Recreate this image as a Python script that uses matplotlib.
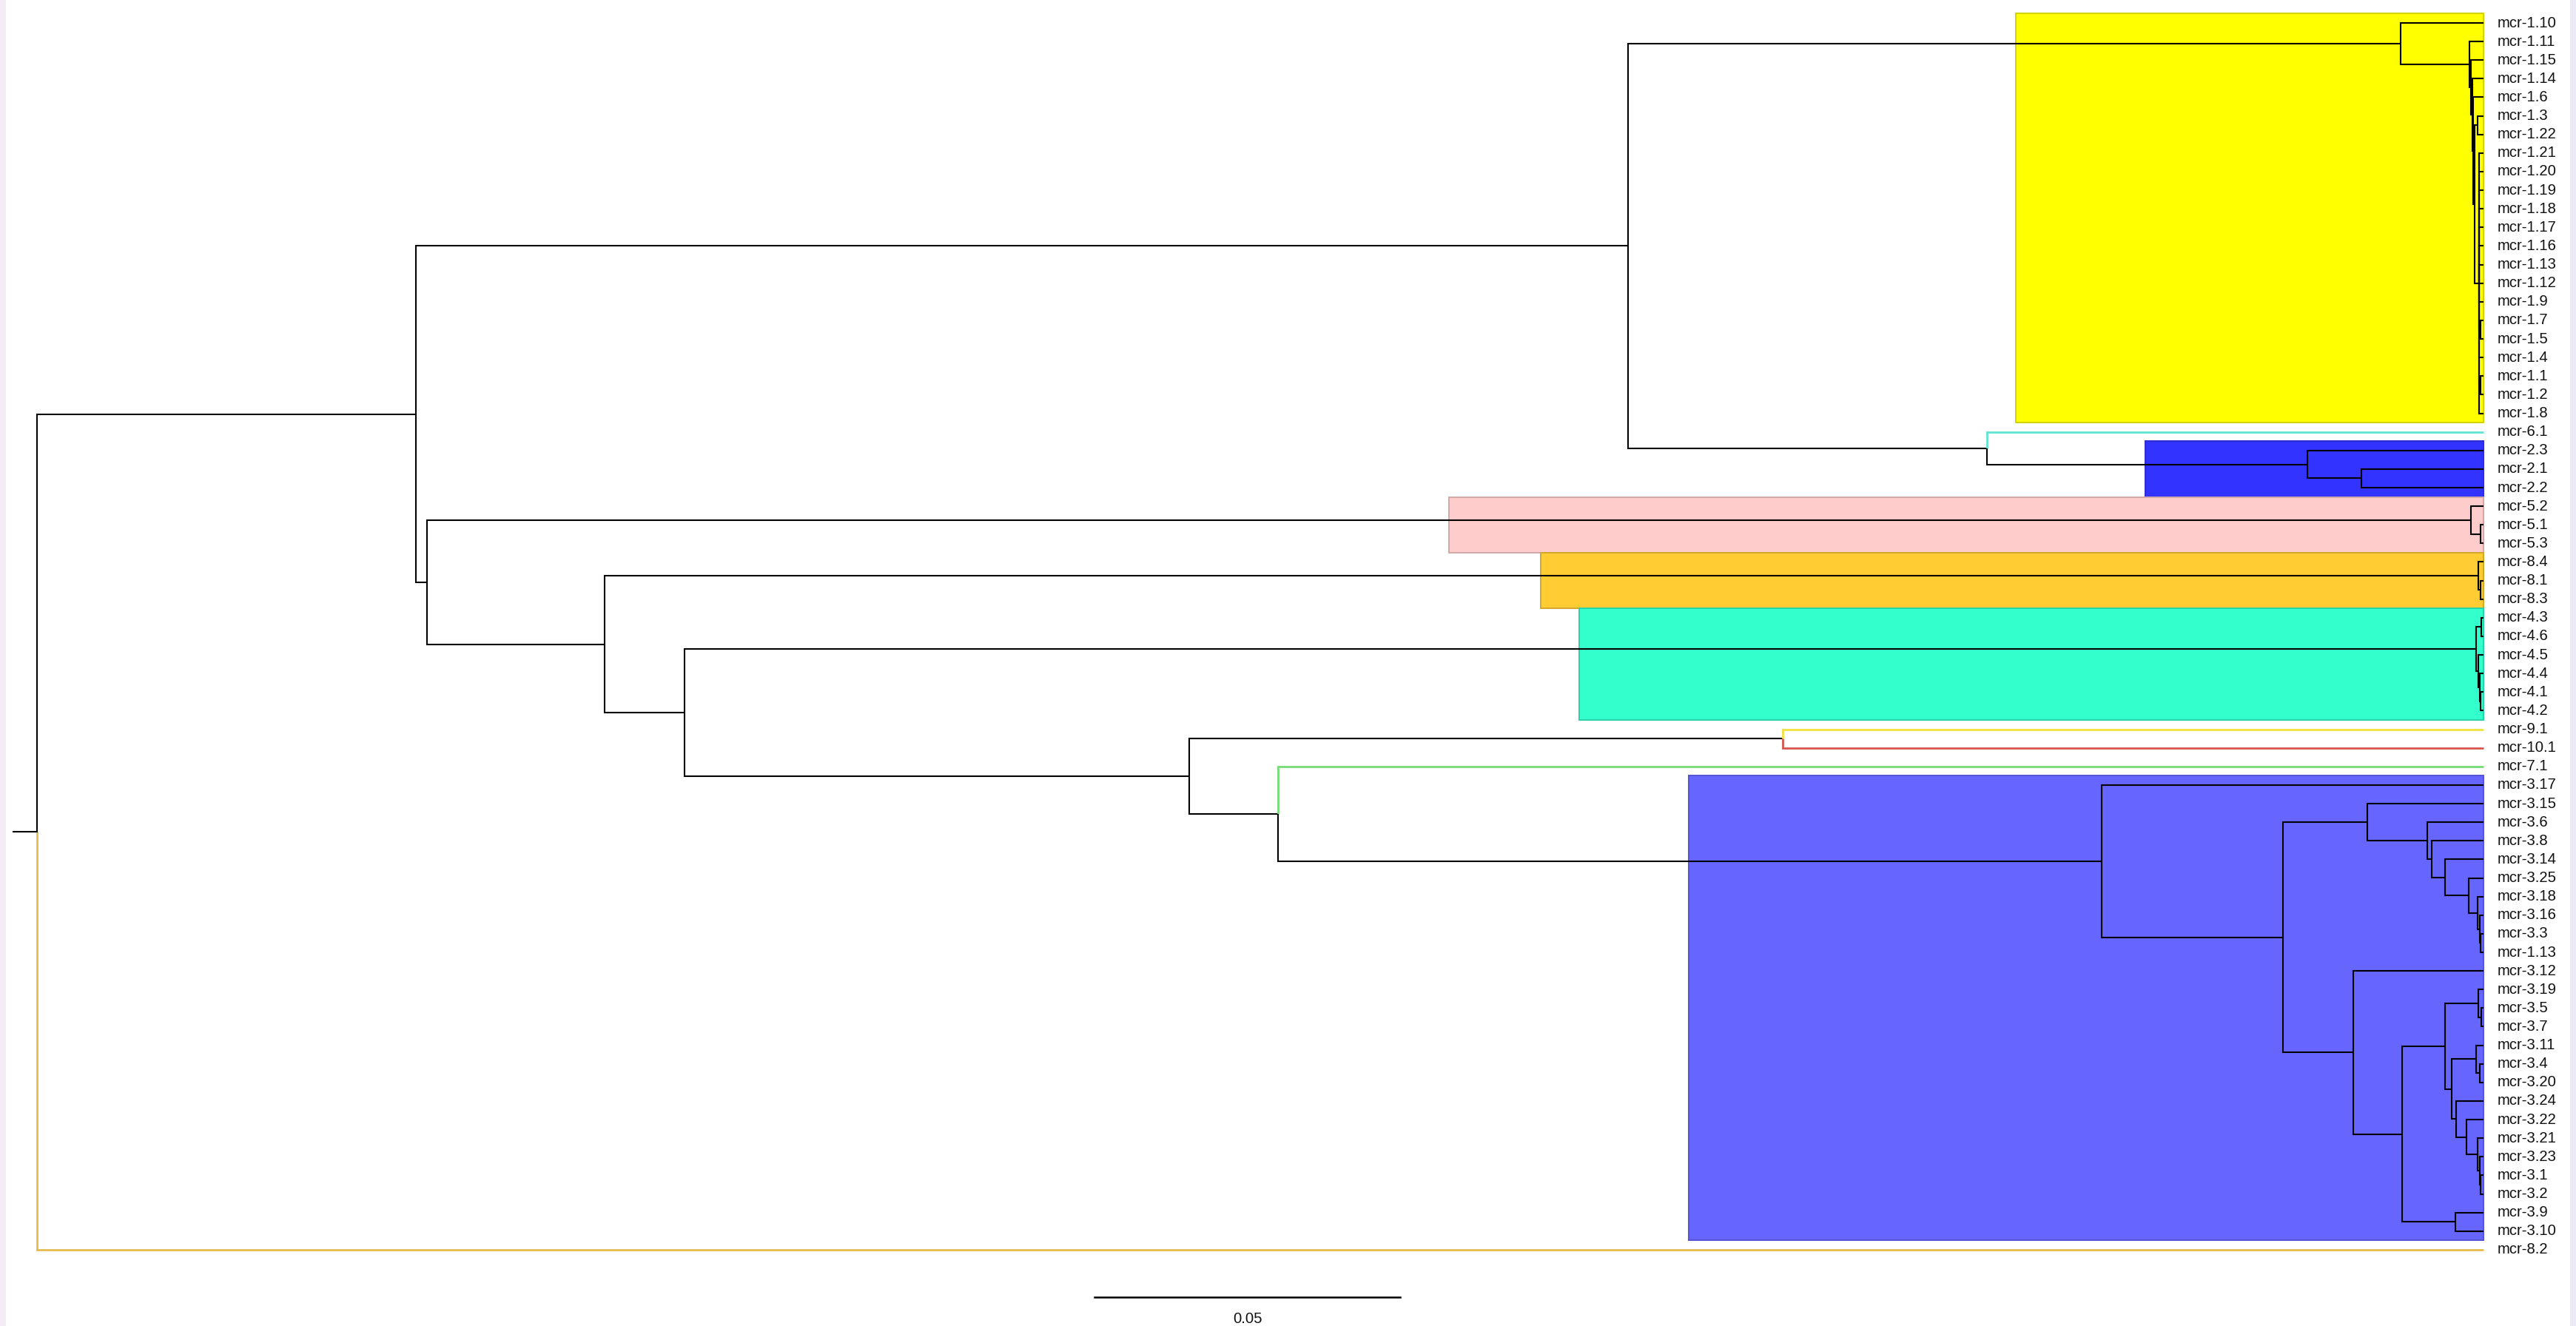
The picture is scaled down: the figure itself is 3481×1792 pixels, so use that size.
import matplotlib
matplotlib.use("Agg")
import matplotlib.pyplot as plt
from matplotlib.patches import Rectangle
import matplotlib.colors as mcolors

# ---------------- data ----------------
leaf_labels = [
    "mcr-1.10", "mcr-1.11", "mcr-1.15", "mcr-1.14", "mcr-1.6", "mcr-1.3", "mcr-1.22", "mcr-1.21",
    "mcr-1.20", "mcr-1.19", "mcr-1.18", "mcr-1.17", "mcr-1.16", "mcr-1.13", "mcr-1.12", "mcr-1.9",
    "mcr-1.7", "mcr-1.5", "mcr-1.4", "mcr-1.1", "mcr-1.2", "mcr-1.8", "mcr-6.1", "mcr-2.3",
    "mcr-2.1", "mcr-2.2", "mcr-5.2", "mcr-5.1", "mcr-5.3", "mcr-8.4", "mcr-8.1", "mcr-8.3",
    "mcr-4.3", "mcr-4.6", "mcr-4.5", "mcr-4.4", "mcr-4.1", "mcr-4.2", "mcr-9.1", "mcr-10.1",
    "mcr-7.1", "mcr-3.17", "mcr-3.15", "mcr-3.6", "mcr-3.8", "mcr-3.14", "mcr-3.25", "mcr-3.18",
    "mcr-3.16", "mcr-3.3", "mcr-1.13", "mcr-3.12", "mcr-3.19", "mcr-3.5", "mcr-3.7", "mcr-3.11",
    "mcr-3.4", "mcr-3.20", "mcr-3.24", "mcr-3.22", "mcr-3.21", "mcr-3.23", "mcr-3.1", "mcr-3.2",
    "mcr-3.9", "mcr-3.10", "mcr-8.2",
]

# internal nodes: children (int = leaf row, str = internal node), height above the tips
node_names = [
    "root", "N1", "N2", "Y0", "Y1", "Y2", "Y3", "Y4", "Y5", "Y6", "Y7", "Y8", "Y9",
    "N4", "N5", "N6", "N3", "P0", "P1", "N7", "O0", "O1", "N8", "T0", "T1", "T2", "T3", "T4",
    "N9", "N10", "N11", "M1", "M2", "M3", "M4", "M5", "M6", "M7", "M8", "M9", "M10",
    "M11", "M12", "M13", "M14", "M15", "M16", "M17", "M18", "M19", "M20", "M21", "M22", "M23", "M24",
]
node_children = [
    ["N1", 66], ["N2", "N3"], ["Y0", "N4"], [0, "Y1"], [1, "Y2"], [2, "Y3"], [3, "Y4"], [4, "Y5"],
    ["Y6", "Y7"], [5, 6], [7, 8, 9, 10, 11, 12, 13, 14, 15, "Y8", 18, "Y9", 21], [16, 17], [19, 20],
    [22, "N5"], [23, "N6"], [24, 25], ["P0", "N7"], [26, "P1"], [27, 28], ["O0", "N8"], [29, "O1"],
    [30, 31], ["T0", "N9"], ["T1", "T2"], [32, 33], [34, "T3"], [35, "T4"], [36, 37],
    ["N10", "N11"], [38, 39], [40, "M1"], [41, "M2"], ["M3", "M11"], [42, "M4"], [43, "M5"],
    [44, "M6"], [45, "M7"], [46, "M8"], [47, "M9"], [48, "M10"], [49, 50],
    [51, "M12"], ["M13", "M24"], ["M14", "M16"], [52, "M15"], [53, 54], ["M17", "M19"],
    [55, "M18"], [56, 57], [58, "M20"], [59, "M21"], [60, "M22"], [61, "M23"], [62, 63], [64, 65],
]
node_heights = [
    0.4000, 0.3380, 0.1399, 0.0136, 0.0023, 0.0021, 0.0019, 0.0017, 0.0015, 0.0010, 0.0008,
    0.0005, 0.0005, 0.0812, 0.0289, 0.0200, 0.3362, 0.0021, 0.0005, 0.3072, 0.0009, 0.0005,
    0.2942, 0.0012, 0.0004, 0.0009, 0.0007, 0.0005, 0.2116, 0.1146, 0.1971, 0.0625, 0.0328,
    0.0190, 0.0093, 0.0085, 0.0063, 0.0025, 0.0010, 0.0007, 0.0005, 0.0213, 0.0133, 0.0063,
    0.0009, 0.0004, 0.0052, 0.0013, 0.0006, 0.0045, 0.0028, 0.0010, 0.0007, 0.0005, 0.0047,
]

# coloured single-leaf branches
colored_leaf_rows = [22, 38, 39, 40, 66]
colored_leaf_colors = ["#5FE3D3", "#F2E23C", "#D9534F", "#74DC74", "#E6BC4E"]

# highlighted clades
clade_first_rows = [0, 23, 26, 29, 32, 41]
clade_last_rows = [21, 25, 28, 31, 37, 65]
clade_box_left = [0.3235, 0.3447, 0.2308, 0.2458, 0.2521, 0.2700]
clade_colors = ["#FFFF00", "#3333FF", "#FFCCCC", "#FFCC33", "#33FFCC", "#6666FF"]

scale_bar_length = 0.05
scale_bar_label = "0.05"

# ---------------- layout ----------------
root_height = node_heights[node_names.index("root")]
children = dict(zip(node_names, node_children))
heights = dict(zip(node_names, node_heights))
leaf_color = dict(zip(colored_leaf_rows, colored_leaf_colors))

y_pos = {}


def node_y(n):
    if isinstance(n, int):
        return float(n)
    if n not in y_pos:
        ch = children[n]
        y_pos[n] = 0.5 * (node_y(ch[0]) + node_y(ch[-1]))
    return y_pos[n]


def node_x(n):
    if isinstance(n, int):
        return root_height
    return root_height - heights[n]


W, H, DPI = 3481, 1792, 200
fig = plt.figure(figsize=(W / DPI, H / DPI), dpi=DPI)
fig.patch.set_facecolor("white")
ax = fig.add_axes([0, 0, 1, 1])
ax.set_axis_off()
px_per_unit = 8266.0
x_root_px = 50.0
row0_px, row_px = 31.0, 25.12
ax.set_xlim(-x_root_px / px_per_unit, (W - x_root_px) / px_per_unit)
ax.set_ylim((H - row0_px) / row_px, -row0_px / row_px)

# faint edge stripes
fig.patches.append(Rectangle((0, 0), 8 / W, 1, transform=fig.transFigure,
                             facecolor="#F4ECF4", edgecolor="none", zorder=0))
fig.patches.append(Rectangle((1 - 8 / W, 0), 8 / W, 1, transform=fig.transFigure,
                             facecolor="#ECEAF6", edgecolor="none", zorder=0))

# clade boxes
for f, l, left, c in zip(clade_first_rows, clade_last_rows, clade_box_left, clade_colors):
    rgb = mcolors.to_rgb(c)
    edge = tuple(v * 0.82 for v in rgb)
    ax.add_patch(Rectangle((left, f - 0.5), root_height - left, (l - f) + 1.0,
                           facecolor=c, edgecolor=edge, lw=0.7, zorder=1))

# branches
lw_tree = 0.75
for n in node_names:
    xn, yn = node_x(n), node_y(n)
    for ch in children[n]:
        col = leaf_color.get(ch, "black") if isinstance(ch, int) else "black"
        lw = 1.0 if col != "black" else lw_tree
        yc = node_y(ch)
        ax.plot([xn, xn, node_x(ch)], [yn, yc, yc], color=col, lw=lw,
                solid_joinstyle="miter", solid_capstyle="butt", zorder=2)

# root stub
ax.plot([-32 / px_per_unit, 0], [node_y("root")] * 2, color="black", lw=lw_tree, zorder=2)

# leaf labels
for i, lab in enumerate(leaf_labels):
    ax.text(root_height + 18 / px_per_unit, i, lab, ha="left", va="center",
            fontsize=7.3, family="Liberation Sans", color="#111111", zorder=3)

# scale bar
sb_x0 = (1479 - x_root_px) / px_per_unit
sb_y = (1753 - row0_px) / row_px
ax.plot([sb_x0, sb_x0 + scale_bar_length], [sb_y, sb_y], color="black", lw=0.9)
ax.text(sb_x0 + scale_bar_length / 2, (1782 - row0_px) / row_px, scale_bar_label,
        ha="center", va="center", fontsize=7.3, family="Liberation Sans", color="#111111")

fig.savefig("out.png", dpi=DPI, facecolor="white")
